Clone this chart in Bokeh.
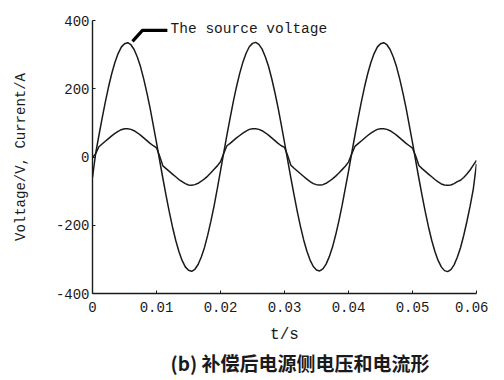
from bokeh.plotting import figure
from bokeh.models import Label, Title, Range1d, FixedTicker
from bokeh.embed import file_html
from bokeh.resources import INLINE

# time samples in milliseconds
T_MS = [0, 0.5, 1, 1.5, 2, 2.5, 3, 3.5, 4, 4.5, 5, 5.5, 6, 6.5, 7, 7.5, 8, 8.5, 9, 9.5,
        10, 10.5, 11, 11.5, 12, 12.5, 13, 13.5, 14, 14.5, 15, 15.5, 16, 16.5, 17, 17.5, 18, 18.5, 19, 19.5,
        20, 20.5, 21, 21.5, 22, 22.5, 23, 23.5, 24, 24.5, 25, 25.5, 26, 26.5, 27, 27.5, 28, 28.5, 29, 29.5,
        30, 30.5, 31, 31.5, 32, 32.5, 33, 33.5, 34, 34.5, 35, 35.5, 36, 36.5, 37, 37.5, 38, 38.5, 39, 39.5,
        40, 40.5, 41, 41.5, 42, 42.5, 43, 43.5, 44, 44.5, 45, 45.5, 46, 46.5, 47, 47.5, 48, 48.5, 49, 49.5,
        50, 50.5, 51, 51.5, 52, 52.5, 53, 53.5, 54, 54.5, 55, 55.5, 56, 56.5, 57, 57.5, 58, 58.5, 59, 59.5,
        60]

VOLTAGE = [-60, 11, 63, 113, 161, 205, 244, 277, 303, 322, 332, 335, 329, 315, 293, 265, 229, 188, 143, 93,
           42, -11, -63, -113, -161, -205, -244, -277, -303, -322, -332, -335, -329, -315, -293, -265, -229, -188, -143, -93,
           -41, 12, 64, 114, 162, 206, 245, 278, 304, 323, 333, 336, 330, 316, 294, 266, 230, 189, 144, 94,
           43, -10, -62, -112, -160, -204, -243, -276, -302, -321, -331, -334, -328, -314, -292, -264, -228, -187, -142, -92,
           -42, 11, 63, 113, 161, 205, 244, 277, 303, 322, 332, 335, 329, 315, 293, 265, 229, 188, 143, 93,
           42, -11, -63, -113, -161, -205, -244, -277, -303, -322, -333, -336, -330, -316, -294, -266, -230, -189, -144, -94,
           -20]

CURRENT = [-2, 10, 30, 38, 46, 54, 62, 69, 75, 80, 83, 83, 81, 77, 71, 64, 56, 48, 40, 33,
           27, 2, -26, -34, -42, -50, -58, -66, -72, -78, -82, -83, -81, -77, -71, -64, -56, -46, -36, -26,
           -14, 10, 33, 40, 48, 56, 63, 70, 76, 81, 83, 83, 81, 77, 71, 64, 56, 48, 40, 33,
           28, 4, -24, -33, -41, -49, -57, -65, -72, -78, -81, -82, -81, -77, -71, -64, -56, -47, -37, -27,
           -15, 9, 31, 39, 47, 55, 63, 70, 76, 81, 83, 83, 81, 77, 71, 64, 56, 48, 40, 33,
           26, 3, -25, -34, -42, -50, -58, -66, -73, -79, -82, -83, -82, -78, -72, -68, -60, -50, -38, -24,
           -10]

X_TICKS = [0, 0.01, 0.02, 0.03, 0.04, 0.05, 0.06]
X_TICK_LABELS = ["0", "0.01", "0.02", "0.03", "0.04", "0.05", "0.06"]
Y_TICKS = [-400, -200, 0, 200, 400]
Y_TICK_LABELS = ["-400", "-200", "0", "200", "400"]

ANNOT_TEXT = "The source voltage"
ANNOT_X = [0.00625, 0.0078, 0.0117]
ANNOT_Y = [339, 371, 371]
ANNOT_TEXT_POS = (0.0122, 375)

X_LABEL = "t/s"
Y_LABEL = "Voltage/V, Current/A"
CAPTION = "(b) 补偿后电源侧电压和电流形"

LATIN_FONT = "Liberation Mono"
INK = "#1a1a1a"

t = [v / 1000.0 for v in T_MS]

p = figure(width=488, height=376, output_backend="svg", toolbar_location=None,
           x_range=Range1d(0, 0.06), y_range=Range1d(-400, 400),
           min_border_left=92, min_border_right=12, min_border_top=20, min_border_bottom=83)
p.background_fill_color = "white"
p.border_fill_color = "white"
p.outline_line_color = None
p.grid.visible = False

p.line(t, VOLTAGE, line_color=INK, line_width=1.5)
p.line(t, CURRENT, line_color=INK, line_width=1.5)
p.line(ANNOT_X, ANNOT_Y, line_color="black", line_width=3.2)

p.add_layout(Label(x=ANNOT_TEXT_POS[0], y=ANNOT_TEXT_POS[1], text=ANNOT_TEXT,
                   text_font=LATIN_FONT, text_font_size="14.5px", text_color=INK,
                   text_baseline="middle", text_align="left"))

for ax in (p.xaxis, p.yaxis):
    ax.axis_line_color = INK
    ax.axis_line_width = 1.4
    ax.major_tick_line_color = INK
    ax.major_tick_in = 3
    ax.major_tick_out = 0
    ax.minor_tick_line_color = None
    ax.major_label_text_font = LATIN_FONT
    ax.major_label_text_font_size = "14px"
    ax.major_label_text_color = INK
    ax.axis_label_text_font = LATIN_FONT
    ax.axis_label_text_font_size = "14px"
    ax.axis_label_text_font_style = "normal"
    ax.axis_label_text_color = INK

p.xaxis.ticker = FixedTicker(ticks=X_TICKS)
p.xaxis.major_label_overrides = {k: v for k, v in zip(X_TICKS, X_TICK_LABELS)}
p.xaxis.major_label_standoff = 8
p.xaxis.axis_label = X_LABEL
p.xaxis.axis_label_standoff = 11
p.xaxis.axis_label_text_font_size = "16px"

p.yaxis.ticker = FixedTicker(ticks=Y_TICKS)
p.yaxis.major_label_overrides = {k: v for k, v in zip(Y_TICKS, Y_TICK_LABELS)}
p.yaxis.major_label_standoff = 3
p.yaxis.axis_label = Y_LABEL
p.yaxis.axis_label_standoff = 24

cap = Title(text=CAPTION, align="left", offset=78, text_font="Noto Sans CJK SC",
            text_font_size="19px", text_font_style="bold", text_color=INK, standoff=0)
p.add_layout(cap, "below")

open("out.html", "w").write(file_html(p, INLINE))
